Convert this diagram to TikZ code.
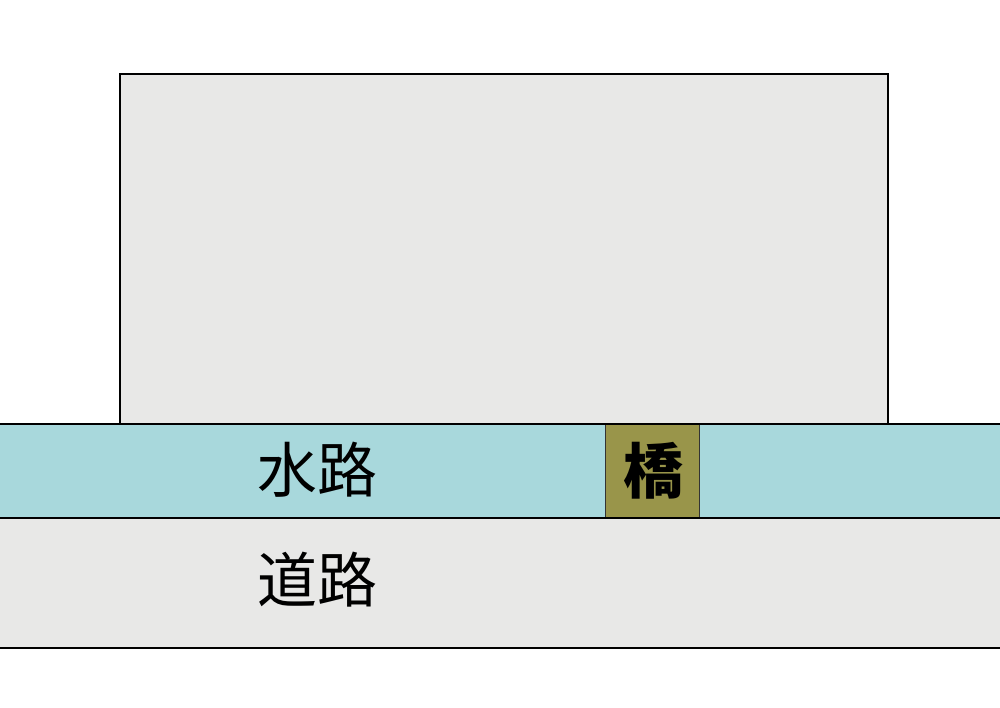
\documentclass[tikz,border=0pt]{standalone}
\usepackage{fontspec}
\newfontfamily\cjk{Noto Sans CJK JP}
\definecolor{bggray}{HTML}{E8E8E7}
\definecolor{water}{HTML}{A8D8DC}
\definecolor{olive}{HTML}{99954A}
\tikzset{
  label/.style={font=\cjk\fontsize{60}{62}\selectfont, inner sep=0pt, text=black},
  edge/.style={draw=black, line width=1.5pt},
}
\begin{document}
\begin{tikzpicture}[x=1pt,y=1pt]
\useasboundingbox (0,0) rectangle (1000,707);
\clip (0,0) rectangle (1000,707);
\fill[white] (0,0) rectangle (1000,707);
% building block
\filldraw[fill=bggray, draw=black, line width=1.2pt] (120,633) rectangle (888,283);
% road
\fill[bggray] (-5,189) rectangle (1005,59);
\draw[edge] (-5,59) -- (1005,59);
% water
\filldraw[fill=water, edge] (-5,283) rectangle (1005,189);
% bridge
\filldraw[fill=olive, draw=black!80, line width=0.8pt] (605,283) rectangle (699,189);
\draw[edge] (-5,283) -- (1005,283);
\draw[edge] (-5,189) -- (1005,189);
\node[label] (suiro) at (317,237) {水路};
\node[label] (doro) at (317,127) {道路};
\node[label, font=\cjk\bfseries\fontsize{60}{62}\selectfont] (hashi) at (653,236) {橋};
\end{tikzpicture}
\end{document}
